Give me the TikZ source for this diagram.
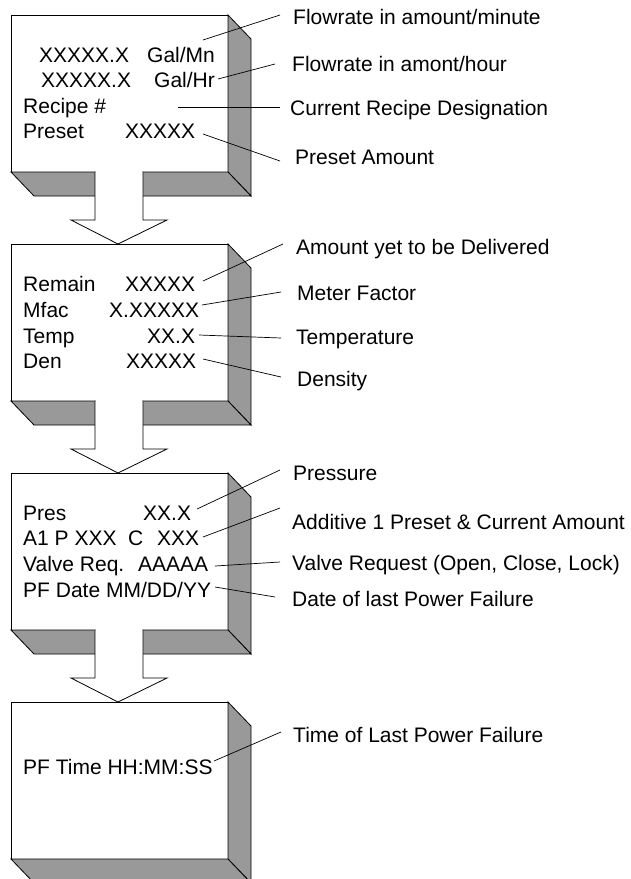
\documentclass[tikz,border=0pt]{standalone}
\usepackage{fontspec}
\setmainfont{Liberation Sans}
\definecolor{sidegray}{RGB}{153,153,153}
\tikzset{
  txt/.style={anchor=west, inner sep=0pt, text height=15.2pt, text depth=0pt,
              font=\fontsize{21}{25}\selectfont},
  lbl/.style={txt},
  edge/.style={draw=black, line width=0.8pt, line join=miter},
  leader/.style={draw=black, line width=0.7pt},
}
\begin{document}
\begin{tikzpicture}[x=1pt,y=-1pt]
\useasboundingbox (0,0) rectangle (631,879);
\clip (0,0) rectangle (631,879);
\fill[white] (0,0) rectangle (631,879);
% boxes
\foreach \Y/\arr in {15/1,244/1,473/1,702/0}{
  \draw[edge, fill=white] (11,\Y) rectangle (228,\Y+157);
  \draw[edge, fill=sidegray] (228,\Y) -- (251,\Y+24) -- (251,\Y+181) -- (228,\Y+157) -- cycle;
  \draw[edge, fill=sidegray] (11,\Y+157) -- (228,\Y+157) -- (251,\Y+181) -- (34,\Y+181) -- cycle;
  \ifnum\arr=1
    \fill[white] (95.6,\Y+155) rectangle (142.4,\Y+206);
    \draw[edge, fill=white] (95,\Y+157) -- (95,\Y+205) -- (71,\Y+205) -- (118,\Y+229)
          -- (167,\Y+205) -- (143,\Y+205) -- (143,\Y+157);
  \fi
}
% box 1 text
\node[txt] (b1a) at (39,55) {XXXXX.X};
\node[txt] (b1b) at (147,55) {Gal/Mn};
\node[txt] (b1c) at (41,80) {XXXXX.X};
\node[txt] (b1d) at (154,80) {Gal/Hr};
\node[txt] (b1e) at (23,106) {Recipe \#};
\node[txt] (b1f) at (23,131) {Preset};
\node[txt] (b1g) at (125,131) {XXXXX};
% box 2 text
\node[txt] (b2a) at (23,284) {Remain};
\node[txt] (b2b) at (125,284) {XXXXX};
\node[txt] (b2c) at (23,310) {Mfac};
\node[txt] (b2d) at (109,310) {X.XXXXX};
\node[txt] (b2e) at (23,336) {Temp};
\node[txt] (b2f) at (147,336) {XX.X};
\node[txt] (b2g) at (23,361) {Den};
\node[txt] (b2h) at (126,361) {XXXXX};
% box 3 text
\node[txt] (b3a) at (23,513) {Pres};
\node[txt] (b3b) at (143,513) {XX.X};
\node[txt] (b3c) at (23,538) {A1 P XXX};
\node[txt] (b3d) at (128,538) {C};
\node[txt] (b3e) at (157,538) {XXX};
\node[txt] (b3f) at (23,564) {Valve Req.};
\node[txt] (b3g) at (138,564) {AAAAA};
\node[txt] (b3h) at (23,590) {PF Date MM/DD/YY};
% box 4 text
\node[txt] (b4a) at (23,767) {PF Time HH:MM:SS};
% labels
\node[lbl] (l1) at (293,17) {Flowrate in amount/minute};
\node[lbl] (l2) at (292,64) {Flowrate in amont/hour};
\node[lbl] (l3) at (290,108) {Current Recipe Designation};
\node[lbl] (l4) at (295,157) {Preset Amount};
\node[lbl] (l5) at (296,247) {Amount yet to be Delivered};
\node[lbl] (l6) at (297,293) {Meter Factor};
\node[lbl] (l7) at (296,337) {Temperature};
\node[lbl] (l8) at (297,379) {Density};
\node[lbl] (l9) at (293,473) {Pressure};
\node[lbl] (l10) at (292,522) {Additive 1 Preset \& Current Amount};
\node[lbl] (l11) at (292,563) {Valve Request (Open, Close, Lock)};
\node[lbl] (l12) at (292,599) {Date of last Power Failure};
\node[lbl] (l13) at (293,735) {Time of Last Power Failure};
% leader start points
\coordinate (s1) at (203,40);
\coordinate (s2) at (218,79);
\coordinate (s3) at (178,107);
\coordinate (s4) at (203,134);
\coordinate (s5) at (203,281);
\coordinate (s6) at (202,305);
\coordinate (s7) at (199,335);
\coordinate (s8) at (203,359);
\coordinate (s9) at (197,509);
\coordinate (s10) at (203,537);
\coordinate (s11) at (215,566);
\coordinate (s12) at (215,587);
\coordinate (s13) at (214,761);
% leaders
\draw[leader] (s1) -- ([shift={(-13,-2)}]l1.west);
\draw[leader] (s2) -- ([shift={(-17,0)}]l2.west);
\draw[leader] (s3) -- ([shift={(-10,-1)}]l3.west);
\draw[leader] (s4) -- ([shift={(-15,4)}]l4.west);
\draw[leader] (s5) -- ([shift={(-13,-3)}]l5.west);
\draw[leader] (s6) -- ([shift={(-16,-1)}]l6.west);
\draw[leader] (s7) -- ([shift={(-15,1)}]l7.west);
\draw[leader] (s8) -- ([shift={(-16,-2)}]l8.west);
\draw[leader] (s9) -- ([shift={(-13,-3)}]l9.west);
\draw[leader] (s10) -- ([shift={(-12,-14)}]l10.west);
\draw[leader] (s11) -- ([shift={(-12,-1)}]l11.west);
\draw[leader] (s12) -- ([shift={(-17,-2)}]l12.west);
\draw[leader] (s13) -- ([shift={(-12,-3)}]l13.west);
\end{tikzpicture}
\end{document}
